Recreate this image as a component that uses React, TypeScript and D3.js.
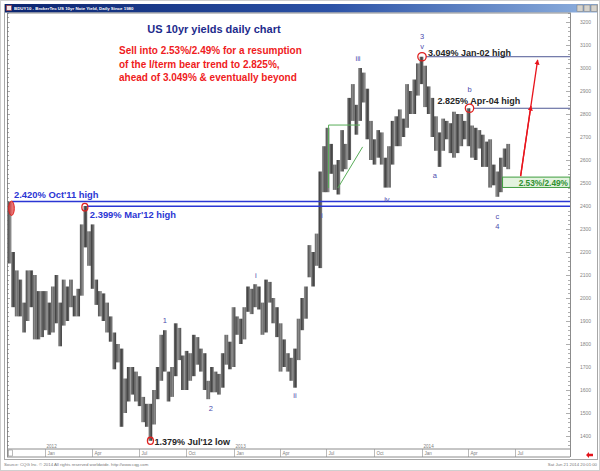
import { useEffect, useRef } from 'react';
import * as d3 from 'd3';

const WIDTH = 600;
const HEIGHT = 471;

// BrokerTec US 10yr yield (%), weekly high / low.
// weeks start on Monday, first one is the week of the Oct'11 high
const firstWeek = '2011-10-24';

const weekHigh = [
  // Oct - Dec 2011
  2.42, 2.2, 2.12, 2.08, 1.98, 2.12, 2.12, 2.1, 2.03, 2.03,
  // 2012
  2.03, 1.98, 2.05, 2.1, 1.98, 2.08, 2.05, 2.08, 2.01, 2.04, 2.32, 2.4, 2.29,
  2.32, 2.08, 2.03, 2.02, 1.98, 1.92, 1.85, 1.8, 1.78, 1.65, 1.7, 1.7, 1.68,
  1.66, 1.57, 1.54, 1.54, 1.6, 1.7, 1.84, 1.86, 1.68, 1.7, 1.89, 1.87, 1.75,
  1.77, 1.76, 1.84, 1.83, 1.78, 1.76, 1.64, 1.7, 1.68, 1.67, 1.76, 1.84, 1.81, 1.96,
  // 2013
  1.92, 1.91, 1.96, 2.05, 2.04, 2.06, 2.05, 1.98, 2.08, 2.07, 2.0, 1.96,
  1.89, 1.82, 1.76, 1.74, 1.78, 1.91, 2.0, 2.05, 2.23, 2.2, 2.28, 2.55, 2.66,
  2.74, 2.67, 2.58, 2.6, 2.73, 2.67, 2.87, 2.93, 2.84, 3.0, 2.98, 2.91, 2.77, 2.69,
  2.73, 2.72, 2.61, 2.66, 2.77, 2.79, 2.82, 2.78, 2.93, 2.9, 2.95, 3.02, 3.049,
  // 2014
  3.01, 2.92, 2.87, 2.79, 2.72, 2.78, 2.77, 2.76, 2.81, 2.8, 2.8, 2.77, 2.825,
  2.75, 2.74, 2.73, 2.71, 2.68, 2.69, 2.58, 2.55, 2.61, 2.65, 2.67,
];

const weekLow = [
  // Oct - Dec 2011
  2.15, 1.96, 1.92, 1.92, 1.85, 1.9, 1.96, 1.82, 1.82, 1.83,
  // 2012
  1.86, 1.84, 1.85, 1.89, 1.79, 1.88, 1.9, 1.96, 1.92, 1.92, 2.01, 2.22, 2.14,
  2.04, 1.97, 1.92, 1.9, 1.85, 1.81, 1.69, 1.72, 1.44, 1.5, 1.55, 1.58, 1.55,
  1.53, 1.46, 1.44, 1.379, 1.45, 1.56, 1.64, 1.68, 1.55, 1.57, 1.66, 1.73, 1.6,
  1.6, 1.64, 1.66, 1.71, 1.68, 1.6, 1.56, 1.59, 1.59, 1.58, 1.61, 1.71, 1.69, 1.7,
  // 2013
  1.84, 1.8, 1.82, 1.94, 1.93, 1.96, 1.95, 1.84, 1.85, 1.98, 1.89, 1.83,
  1.68, 1.7, 1.68, 1.64, 1.61, 1.73, 1.86, 1.91, 2.09, 2.05, 2.14, 2.13, 2.46,
  2.46, 2.54, 2.47, 2.45, 2.55, 2.56, 2.6, 2.77, 2.71, 2.77, 2.85, 2.69, 2.6, 2.58,
  2.61, 2.58, 2.48, 2.48, 2.58, 2.66, 2.66, 2.7, 2.74, 2.8, 2.8, 2.88, 2.93,
  // 2014
  2.83, 2.8, 2.7, 2.64, 2.57, 2.64, 2.69, 2.63, 2.61, 2.63, 2.66, 2.69, 2.66,
  2.61, 2.6, 2.65, 2.57, 2.57, 2.48, 2.49, 2.44, 2.46, 2.57, 2.56,
];

// right hand price scale, CQG prints yield x 1000
const priceTicks = [1400, 1500, 1600, 1700, 1800, 1900, 2000, 2100, 2200, 2300, 2400, 2500, 2600, 2700, 2800, 2900, 3000, 3100, 3200];

// quarter separators on the time axis
const quarterTicks = [
  '2012-01-03', '2012-04-02', '2012-07-02', '2012-10-01',
  '2013-01-02', '2013-04-01', '2013-07-01', '2013-10-01',
  '2014-01-02', '2014-04-01', '2014-07-01',
];

// elliott wave counts
const waveLabels = [
  { date: '2012-08-22', value: 1.891, text: '1' },
  { date: '2012-11-19', value: 1.509, text: '2' },
  { date: '2013-02-14', value: 2.087, text: 'i' },
  { date: '2013-05-01', value: 1.565, text: 'ii' },
  { date: '2013-06-22', value: 2.348, text: 'i' },
  { date: '2013-08-31', value: 3.03, text: 'iii' },
  { date: '2013-10-26', value: 2.417, text: 'iv' },
  { date: '2014-01-02', value: 3.126, text: '3' },
  { date: '2014-01-02', value: 3.083, text: 'v' },
  { date: '2014-01-27', value: 2.522, text: 'a' },
  { date: '2014-04-04', value: 2.897, text: 'b' },
  { date: '2014-05-28', value: 2.343, text: 'c' },
  { date: '2014-05-28', value: 2.3, text: '4' },
];

const commentLines = [
  'Sell into 2.53%/2.49% for a resumption',
  'of the l/term bear trend to 2.825%,',
  'ahead of 3.049% & eventually beyond',
];

const FONT = "'Liberation Sans', Arial, sans-serif";
const parse = d3.timeParse('%Y-%m-%d');

export default function App() {
  const svgRef = useRef<SVGSVGElement>(null);

  useEffect(() => {
    if (!svgRef.current) return;
    const svg = d3.select(svgRef.current);
    svg.selectAll('*').remove();

    const plot = { left: 7, right: 570, top: 13, bottom: 449 };

    const x = d3
      .scaleTime()
      .domain([parse('2011-10-27')!, parse('2014-01-02')!])
      .range([10, 422]);
    const y = d3.scaleLinear().domain([1.4, 3.2]).range([436, 22]);
    const d = (s: string) => parse(s)!;

    const weeks = weekHigh.map((h, i) => ({
      mid: d3.timeDay.offset(d(firstWeek), i * 7 + 2),
      high: h,
      low: weekLow[i],
    }));
    const step = x(d3.timeDay.offset(d(firstWeek), 7)) - x(d(firstWeek));
    const bw = step + 0.15;

    const defs = svg.append('defs');
    const grad = defs.append('linearGradient').attr('id', 'titlebar');
    grad.append('stop').attr('offset', '0%').attr('stop-color', '#0b2570');
    grad.append('stop').attr('offset', '55%').attr('stop-color', '#2c52a6');
    grad.append('stop').attr('offset', '100%').attr('stop-color', '#8eb0de');
    defs
      .append('clipPath')
      .attr('id', 'plotclip')
      .append('rect')
      .attr('x', plot.left + 1)
      .attr('y', plot.top)
      .attr('width', plot.right - plot.left - 1)
      .attr('height', plot.bottom - plot.top);
    // thin vertical strokes so the weekly ranges read like packed daily bars
    const pat = defs
      .append('pattern')
      .attr('id', 'daily')
      .attr('patternUnits', 'userSpaceOnUse')
      .attr('width', 1.2)
      .attr('height', 6);
    pat.append('rect').attr('width', 1.2).attr('height', 6).attr('fill', '#a4a4a4');
    pat.append('rect').attr('width', 0.78).attr('height', 6).attr('fill', '#474747');
    defs
      .append('marker')
      .attr('id', 'redhead')
      .attr('viewBox', '0 -5 10 10')
      .attr('refX', 9)
      .attr('refY', 0)
      .attr('orient', 'auto')
      .attr('markerWidth', 4)
      .attr('markerHeight', 4)
      .append('path')
      .attr('d', 'M0,-5L10,0L0,5Z')
      .attr('fill', '#e8141c');

    // window chrome
    svg.append('rect').attr('width', WIDTH).attr('height', HEIGHT).attr('fill', '#fff');
    svg
      .append('rect')
      .attr('x', 0.5)
      .attr('y', 0.5)
      .attr('width', WIDTH - 1)
      .attr('height', HEIGHT - 1)
      .attr('fill', 'none')
      .attr('stroke', '#cfcfcf');
    svg
      .append('rect')
      .attr('x', 4.5)
      .attr('y', 4.5)
      .attr('width', 593)
      .attr('height', 455)
      .attr('fill', 'none')
      .attr('stroke', '#a8a8a8');
    svg.append('rect').attr('x', 5).attr('y', 4).attr('width', 592).attr('height', 8.5).attr('fill', 'url(#titlebar)');
    svg
      .append('rect')
      .attr('x', 6.5)
      .attr('y', 5.5)
      .attr('width', 5)
      .attr('height', 5)
      .attr('fill', '#f2e6e6')
      .attr('stroke', '#a33')
      .attr('stroke-width', 0.6);
    svg
      .append('text')
      .attr('x', 14)
      .attr('y', 10.4)
      .attr('font-family', FONT)
      .attr('font-size', 4.4)
      .attr('font-weight', 'bold')
      .attr('fill', '#fff')
      .text('BDUY10 - BrokerTec US 10yr Note Yield, Daily   Since 1980');
    [577, 584, 591].forEach((bx) => {
      svg
        .append('rect')
        .attr('x', bx)
        .attr('y', 5)
        .attr('width', 6)
        .attr('height', 6.5)
        .attr('fill', '#d6d3cc')
        .attr('stroke', '#7a7a7a')
        .attr('stroke-width', 0.5);
    });

    // plot frame
    svg
      .append('rect')
      .attr('x', plot.left + 0.5)
      .attr('y', plot.top)
      .attr('width', plot.right - plot.left)
      .attr('height', plot.bottom - plot.top)
      .attr('fill', 'none')
      .attr('stroke', '#8c8c8c');
    svg
      .append('line')
      .attr('x1', plot.left)
      .attr('x2', plot.right)
      .attr('y1', 457)
      .attr('y2', 457)
      .attr('stroke', '#8c8c8c');
    svg
      .append('line')
      .attr('x1', plot.left + 0.5)
      .attr('x2', plot.left + 0.5)
      .attr('y1', plot.bottom)
      .attr('y2', 457)
      .attr('stroke', '#8c8c8c');
    svg
      .append('line')
      .attr('x1', plot.right + 0.5)
      .attr('x2', plot.right + 0.5)
      .attr('y1', plot.bottom)
      .attr('y2', 457)
      .attr('stroke', '#8c8c8c');
    svg
      .append('rect')
      .attr('x', 8.5)
      .attr('y', 450)
      .attr('width', 4)
      .attr('height', 6)
      .attr('fill', '#fff')
      .attr('stroke', '#777')
      .attr('stroke-width', 0.5);

    // price axis ticks, left and right
    const minor = d3.range(1340, 3241, 20);
    minor.forEach((v) => {
      const yy = Math.round(y(v / 1000)) + 0.5;
      if (yy < plot.top || yy > plot.bottom) return;
      const major = v % 100 === 0;
      svg
        .append('line')
        .attr('x1', plot.right - (major ? 4 : 2))
        .attr('x2', plot.right)
        .attr('y1', yy)
        .attr('y2', yy)
        .attr('stroke', '#777')
        .attr('stroke-width', 0.6);
      svg
        .append('line')
        .attr('x1', plot.left)
        .attr('x2', plot.left + (major ? 3 : 2))
        .attr('y1', yy)
        .attr('y2', yy)
        .attr('stroke', '#777')
        .attr('stroke-width', 0.6);
    });
    svg
      .append('g')
      .selectAll('text')
      .data(priceTicks)
      .join('text')
      .attr('x', 580)
      .attr('y', (v) => y(v / 1000) + 1.8)
      .attr('font-family', FONT)
      .attr('font-size', 5)
      .attr('fill', '#858585')
      .text((v) => v);

    // time axis
    quarterTicks.forEach((s) => {
      const dt = d(s);
      const xx = Math.round(x(dt)) + 0.5;
      svg
        .append('line')
        .attr('x1', xx)
        .attr('x2', xx)
        .attr('y1', plot.bottom)
        .attr('y2', 457)
        .attr('stroke', '#8c8c8c')
        .attr('stroke-width', 0.6);
      svg
        .append('text')
        .attr('x', xx + 2)
        .attr('y', 455.3)
        .attr('font-family', FONT)
        .attr('font-size', 4.6)
        .attr('fill', '#808080')
        .text(d3.timeFormat('%b')(dt));
      if (dt.getMonth() === 0) {
        svg
          .append('text')
          .attr('x', xx + 1)
          .attr('y', 448.2)
          .attr('font-family', FONT)
          .attr('font-size', 4.6)
          .attr('fill', '#808080')
          .text(d3.timeFormat('%Y')(dt));
      }
    });

    // footer
    svg
      .append('text')
      .attr('x', 4)
      .attr('y', 466)
      .attr('font-family', FONT)
      .attr('font-size', 4.3)
      .attr('fill', '#777')
      .text('Source: CQG Inc. \u00a9 2014 All rights reserved worldwide. http://www.cqg.com');
    svg
      .append('text')
      .attr('x', 597)
      .attr('y', 466)
      .attr('text-anchor', 'end')
      .attr('font-family', FONT)
      .attr('font-size', 4.3)
      .attr('fill', '#777')
      .text('Sat Jun 21 2014 20:01:00');
    svg
      .append('path')
      .attr('d', 'M586,455 L589,452 L589,453.8 L593,453.8 L593,456.2 L589,456.2 L589,458 Z')
      .attr('fill', '#e3131b');

    const g = svg.append('g').attr('clip-path', 'url(#plotclip)');

    // weekly ranges
    g.selectAll('rect.bar')
      .data(weeks)
      .join('rect')
      .attr('class', 'bar')
      .attr('x', (w) => x(w.mid) - bw / 2)
      .attr('y', (w) => y(w.high))
      .attr('width', bw)
      .attr('height', (w) => Math.max(1, y(w.low) - y(w.high)))
      .attr('fill', 'url(#daily)');

    // support lines
    const blue = '#2b36d4';
    g.append('line')
      .attr('x1', x(d('2011-10-27')) + 2)
      .attr('x2', plot.right)
      .attr('y1', y(2.42))
      .attr('y2', y(2.42))
      .attr('stroke', blue)
      .attr('stroke-width', 1.5);
    g.append('line')
      .attr('x1', x(d('2012-03-20')) + 2)
      .attr('x2', plot.right)
      .attr('y1', y(2.399))
      .attr('y2', y(2.399))
      .attr('stroke', blue)
      .attr('stroke-width', 1.5);

    // resistance lines
    const navy = '#4f5894';
    g.append('line')
      .attr('x1', x(d('2014-01-02')) + 4)
      .attr('x2', plot.right)
      .attr('y1', y(3.049))
      .attr('y2', y(3.049))
      .attr('stroke', navy)
      .attr('stroke-width', 1);
    g.append('line')
      .attr('x1', x(d('2014-04-04')) + 4)
      .attr('x2', plot.right)
      .attr('y1', y(2.825))
      .attr('y2', y(2.825))
      .attr('stroke', navy)
      .attr('stroke-width', 1);

    // green flag
    const green = '#58ad58';
    const flag: [string, number, string, number][] = [
      ['2013-07-05', 2.752, '2013-09-04', 2.752],
      ['2013-07-05', 2.752, '2013-07-05', 2.478],
      ['2013-07-23', 2.478, '2013-09-09', 2.657],
    ];
    flag.forEach(([d1, v1, d2, v2]) => {
      g.append('line')
        .attr('x1', x(d(d1)))
        .attr('y1', y(v1))
        .attr('x2', x(d(d2)))
        .attr('y2', y(v2))
        .attr('stroke', green)
        .attr('stroke-width', 1);
    });

    // 2.53/2.49 sell zone
    const zoneX = x(d('2014-06-07'));
    g.append('rect')
      .attr('x', zoneX)
      .attr('y', y(2.53) + 1)
      .attr('width', plot.right - zoneX)
      .attr('height', y(2.485) - y(2.53))
      .attr('fill', '#e3f3df')
      .attr('stroke', '#3f9d3f')
      .attr('stroke-width', 1);
    g.append('text')
      .attr('x', plot.right - 2)
      .attr('y', y(2.49) + 1)
      .attr('text-anchor', 'end')
      .attr('font-family', FONT)
      .attr('font-size', 8.3)
      .attr('font-weight', 'bold')
      .attr('fill', '#2f902f')
      .text('2.53%/2.49%');

    // projected move
    const ax1 = x(d('2014-07-12'));
    const ay1 = y(2.53);
    const ax2 = x(d('2014-08-14'));
    const ay2 = y(3.035);
    const t = (2.835 - 2.53) / (3.035 - 2.53);
    g.append('line')
      .attr('x1', ax1)
      .attr('y1', ay1)
      .attr('x2', ax2)
      .attr('y2', ay2)
      .attr('stroke', '#e8141c')
      .attr('stroke-width', 1.3)
      .attr('marker-end', 'url(#redhead)');
    g.append('line')
      .attr('x1', ax1)
      .attr('y1', ay1)
      .attr('x2', ax1 + (ax2 - ax1) * t)
      .attr('y2', ay1 + (ay2 - ay1) * t)
      .attr('stroke', '#e8141c')
      .attr('stroke-width', 1.3)
      .attr('marker-end', 'url(#redhead)');

    // highs and lows marked in red
    const red = '#e0201e';
    g.append('ellipse')
      .attr('cx', x(d('2011-10-27')) + 1.5)
      .attr('cy', y(2.39))
      .attr('rx', 2.8)
      .attr('ry', 7.2)
      .attr('fill', 'rgba(225,70,70,0.75)')
      .attr('stroke', red)
      .attr('stroke-width', 1);
    const rings: [string, number, number, number][] = [
      ['2012-03-20', 2.395, 3, 3.8],
      ['2014-01-02', 3.049, 4.2, 4.2],
      ['2014-04-04', 2.825, 4.2, 4.2],
      ['2012-07-25', 1.379, 3, 3.6],
    ];
    rings.forEach(([s, v, rx, ry]) => {
      g.append('ellipse')
        .attr('cx', x(d(s)))
        .attr('cy', y(v))
        .attr('rx', rx)
        .attr('ry', ry)
        .attr('fill', 'none')
        .attr('stroke', red)
        .attr('stroke-width', 1.3);
    });

    // level annotations
    const note = (tx: number, ty: number, text: string, fill: string, size: number) =>
      svg
        .append('text')
        .attr('x', tx)
        .attr('y', ty)
        .attr('font-family', FONT)
        .attr('font-size', size)
        .attr('font-weight', 'bold')
        .attr('fill', fill)
        .text(text);
    note(x(d('2011-10-27')) + 4, y(2.42) - 3, "2.420% Oct'11 high", blue, 9.4);
    note(x(d('2012-03-20')) + 5, y(2.399) + 11.5, "2.399% Mar'12 high", blue, 9.4);
    note(x(d('2014-01-02')) + 6, y(3.049) - 0.5, '3.049% Jan-02 high', '#262626', 9);
    note(x(d('2014-04-04')) - 32, y(2.825) - 4.5, '2.825% Apr-04 high', '#262626', 9);
    note(x(d('2012-07-25')) + 4, y(1.379) + 4, "1.379% Jul'12 low", '#262626', 9);

    // wave counts
    svg
      .append('g')
      .selectAll('text')
      .data(waveLabels)
      .join('text')
      .attr('x', (w) => x(d(w.date)))
      .attr('y', (w) => y(w.value))
      .attr('text-anchor', 'middle')
      .attr('font-family', FONT)
      .attr('font-size', 7.5)
      .attr('fill', '#4c4cae')
      .text((w) => w.text);

    // heading and comment
    svg
      .append('text')
      .attr('x', 214)
      .attr('y', 33)
      .attr('text-anchor', 'middle')
      .attr('font-family', FONT)
      .attr('font-size', 11)
      .attr('font-weight', 'bold')
      .attr('fill', '#1d2b8c')
      .text('US 10yr yields daily chart');
    svg
      .append('g')
      .selectAll('text')
      .data(commentLines)
      .join('text')
      .attr('x', 119)
      .attr('y', (_, i) => 54 + i * 13.6)
      .attr('font-family', FONT)
      .attr('font-size', 10)
      .attr('font-weight', 'bold')
      .attr('fill', '#ef1b22')
      .text((s) => s);
  }, []);

  return (
    <svg
      ref={svgRef}
      width={WIDTH}
      height={HEIGHT}
      style={{ position: 'absolute', left: 0, top: 0, display: 'block' }}
    />
  );
}
